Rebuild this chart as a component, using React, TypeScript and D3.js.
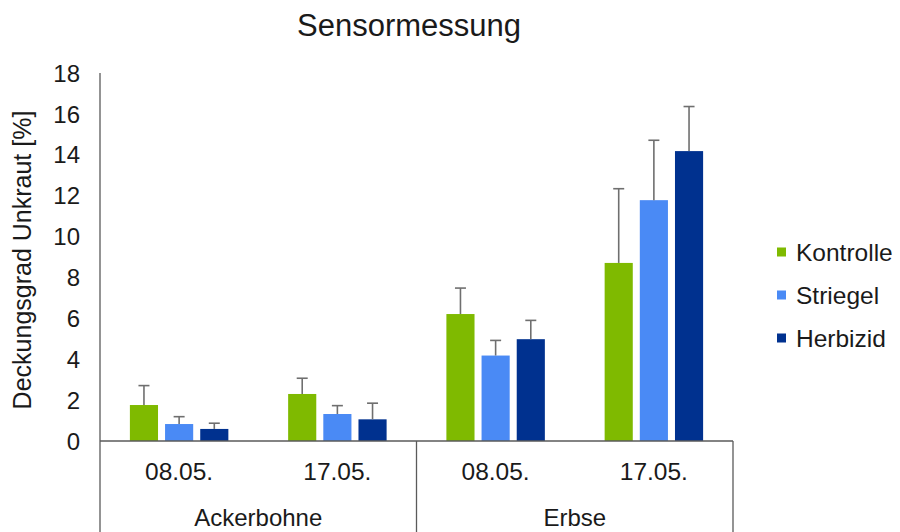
import { useEffect, useRef } from 'react';
import * as d3 from 'd3';

const crops = ['Ackerbohne', 'Erbse'];
const dates = ['08.05.', '17.05.'];
const series = ['Kontrolle', 'Striegel', 'Herbizid'];
const colors = ['#7fba00', '#4a8af5', '#00318f'];

// means per category (Ackerbohne 08.05., Ackerbohne 17.05., Erbse 08.05., Erbse 17.05.)
const kontrolle = [1.76, 2.3, 6.21, 8.71];
const striegel = [0.83, 1.32, 4.18, 11.78];
const herbizid = [0.59, 1.06, 4.98, 14.18];

// upper error bars (standard deviation)
const kontrolleSd = [0.95, 0.77, 1.27, 3.63];
const striegelSd = [0.36, 0.41, 0.74, 2.93];
const herbizidSd = [0.28, 0.79, 0.92, 2.18];

const yTicks = [0, 2, 4, 6, 8, 10, 12, 14, 16, 18];

interface Bar {
  cat: string;
  key: string;
  value: number;
  sd: number;
  color: string;
}

export default function App(): JSX.Element {
  const svgRef = useRef<SVGSVGElement>(null);

  useEffect(() => {
    if (svgRef.current) {
      svgRef.current.innerHTML = '';
    }
    const width = 900;
    const height = 532;
    const left = 100;
    const right = 733;
    const bottom = 441;
    const top = 73;
    const font = 'Liberation Sans, Arial, sans-serif';
    const axisColor = '#5a5a5a';
    const textColor = '#1a1a1a';

    const categories = crops.flatMap((c) => dates.map((d) => `${c}|${d}`));
    const values = [kontrolle, striegel, herbizid];
    const sds = [kontrolleSd, striegelSd, herbizidSd];
    const bars: Bar[] = [];
    categories.forEach((cat, i) => {
      series.forEach((key, j) => {
        bars.push({ cat, key, value: values[j][i], sd: sds[j][i], color: colors[j] });
      });
    });

    const x0 = d3.scaleBand(categories, [left, right]);
    const x1 = d3.scaleBand(series, [0, x0.bandwidth()]).paddingInner(0.2).paddingOuter(0.85);
    const y = d3.scaleLinear([0, 18], [bottom, top]);
    const crop = d3.scaleBand(crops, [left, right]);

    const svg = d3
      .select(svgRef.current)
      .attr('width', width)
      .attr('height', height)
      .attr('viewBox', [0, 0, width, height])
      .style('font-family', font);

    // Title
    svg
      .append('text')
      .attr('x', 409)
      .attr('y', 36)
      .attr('text-anchor', 'middle')
      .attr('font-size', 31)
      .attr('fill', textColor)
      .text('Sensormessung');

    // Y-axis labels
    svg
      .append('g')
      .selectAll('text')
      .data(yTicks)
      .join('text')
      .attr('x', 80)
      .attr('y', (d) => y(d))
      .attr('dy', '0.36em')
      .attr('text-anchor', 'end')
      .attr('font-size', 24)
      .attr('fill', textColor)
      .text((d) => d);

    svg
      .append('text')
      .attr('transform', `translate(22,${(top + bottom) / 2 + 3}) rotate(-90)`)
      .attr('text-anchor', 'middle')
      .attr('dy', '0.35em')
      .attr('font-size', 25)
      .attr('fill', textColor)
      .text('Deckungsgrad Unkraut [%]');

    // Bars
    svg
      .append('g')
      .selectAll('rect')
      .data(bars)
      .join('rect')
      .attr('x', (d) => (x0(d.cat) ?? 0) + (x1(d.key) ?? 0))
      .attr('y', (d) => y(d.value))
      .attr('width', x1.bandwidth())
      .attr('height', (d) => y(0) - y(d.value))
      .attr('fill', (d) => d.color);

    // Error bars
    const err = svg
      .append('g')
      .attr('stroke', '#6f6f6f')
      .attr('stroke-width', 1.6)
      .selectAll('g')
      .data(bars)
      .join('g')
      .attr('transform', (d) => `translate(${(x0(d.cat) ?? 0) + (x1(d.key) ?? 0) + x1.bandwidth() / 2},0)`);
    err
      .append('line')
      .attr('y1', (d) => y(d.value))
      .attr('y2', (d) => y(d.value + d.sd));
    err
      .append('line')
      .attr('x1', -5.5)
      .attr('x2', 5.5)
      .attr('y1', (d) => y(d.value + d.sd))
      .attr('y2', (d) => y(d.value + d.sd));

    // Axes lines
    svg
      .append('line')
      .attr('x1', left)
      .attr('x2', left)
      .attr('y1', top)
      .attr('y2', height)
      .attr('stroke', axisColor)
      .attr('stroke-width', 1.3);
    svg
      .append('line')
      .attr('x1', left)
      .attr('x2', right)
      .attr('y1', bottom)
      .attr('y2', bottom)
      .attr('stroke', axisColor)
      .attr('stroke-width', 1.3);
    svg
      .append('g')
      .selectAll('line')
      .data(crops)
      .join('line')
      .attr('x1', (d) => (crop(d) ?? 0) + crop.bandwidth())
      .attr('x2', (d) => (crop(d) ?? 0) + crop.bandwidth())
      .attr('y1', bottom)
      .attr('y2', height)
      .attr('stroke', axisColor)
      .attr('stroke-width', 1.3);

    // Date labels
    svg
      .append('g')
      .selectAll('text')
      .data(categories)
      .join('text')
      .attr('x', (d) => (x0(d) ?? 0) + x0.bandwidth() / 2)
      .attr('y', 480)
      .attr('text-anchor', 'middle')
      .attr('font-size', 24.5)
      .attr('fill', textColor)
      .text((d) => d.split('|')[1]);

    // Crop labels
    svg
      .append('g')
      .selectAll('text')
      .data(crops)
      .join('text')
      .attr('x', (d) => (crop(d) ?? 0) + crop.bandwidth() / 2)
      .attr('y', 526)
      .attr('text-anchor', 'middle')
      .attr('font-size', 24)
      .attr('fill', textColor)
      .text((d) => d);

    // Legend
    const legend = svg
      .append('g')
      .selectAll('g')
      .data(series)
      .join('g')
      .attr('transform', (_, i) => `translate(777,${252 + i * 43})`);
    legend
      .append('rect')
      .attr('x', 0)
      .attr('y', -4.5)
      .attr('width', 9)
      .attr('height', 9)
      .attr('fill', (_, i) => colors[i]);
    legend
      .append('text')
      .attr('x', 19)
      .attr('dy', '0.36em')
      .attr('font-size', 24.5)
      .attr('fill', textColor)
      .text((d) => d);
  }, []);

  return (
    <div style={{ position: 'absolute', left: 0, top: 0 }}>
      <svg ref={svgRef} style={{ display: 'block', background: '#fff' }} />
    </div>
  );
}
